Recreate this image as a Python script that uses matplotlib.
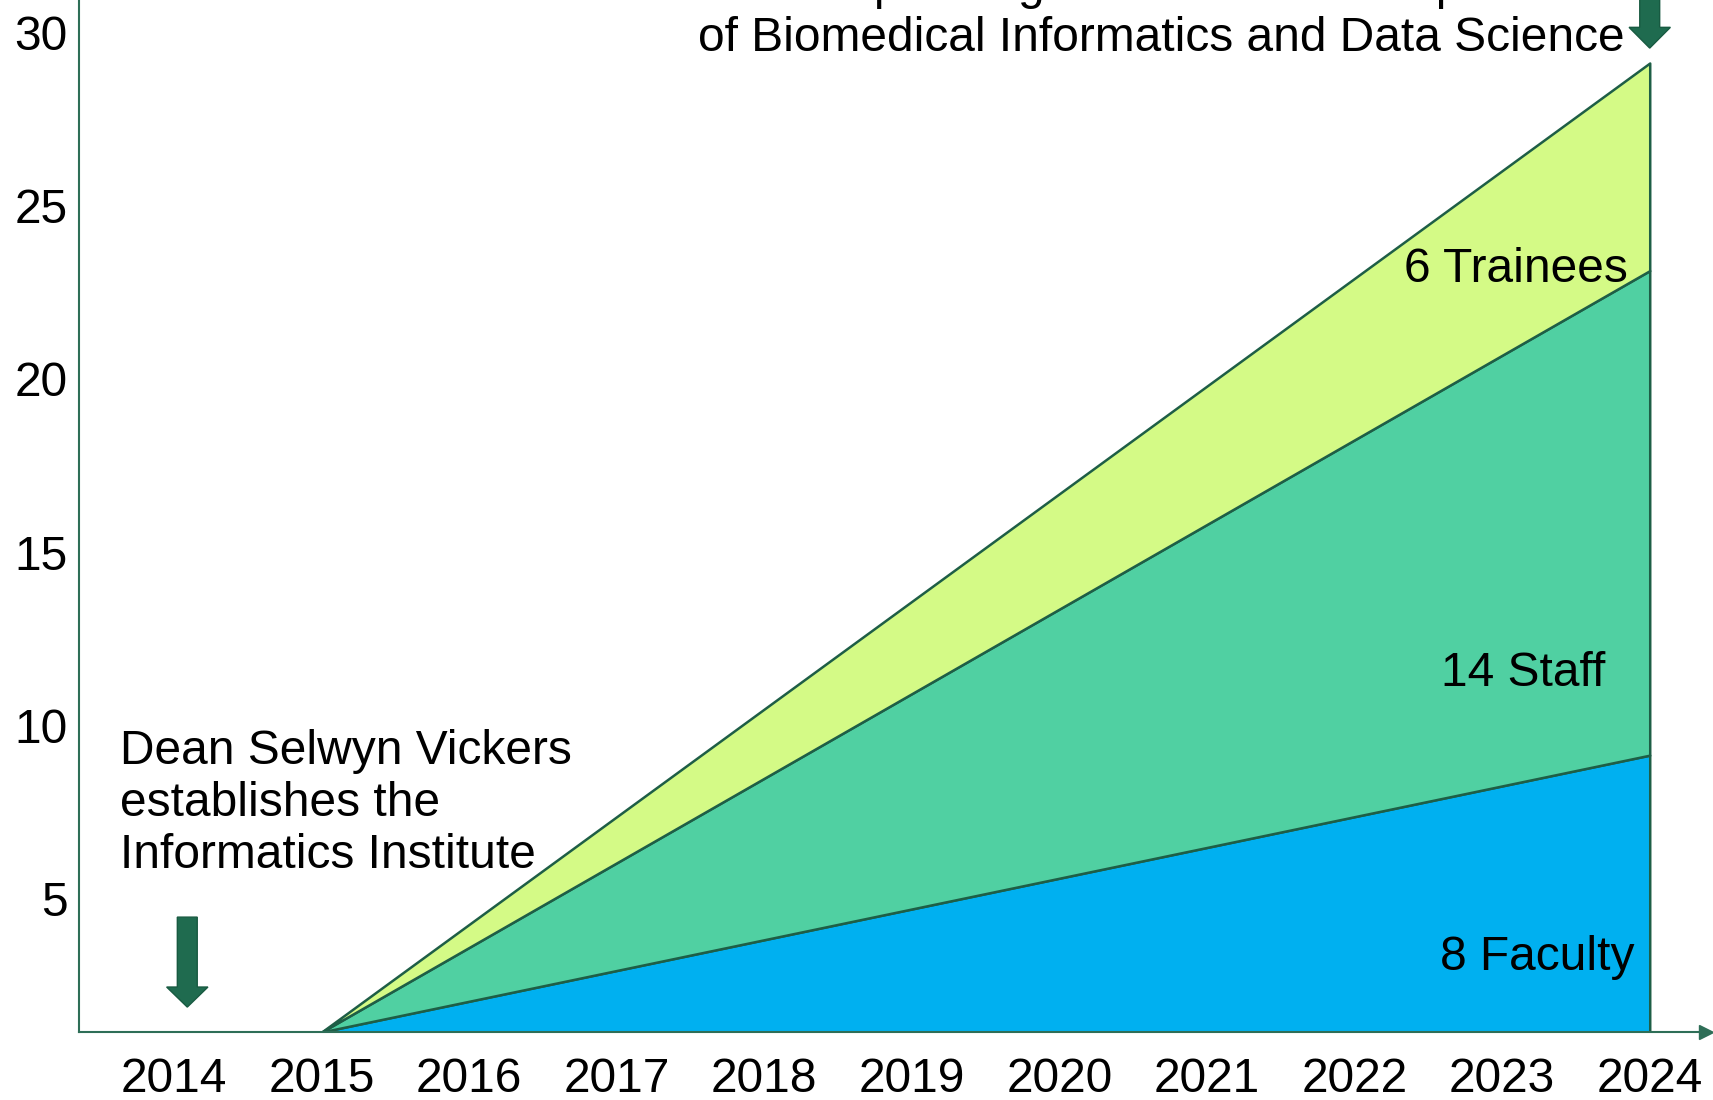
import numpy as np
import matplotlib.pyplot as plt
from matplotlib.patches import FancyArrow

plt.rcParams['font.family'] = ['Liberation Sans', 'DejaVu Sans']

#   Data
years = [2015, 2024]
faculty = [0, 8]
staff = [0, 14]
trainees = [0, 6]
layer_names = ['Faculty', 'Staff', 'Trainees']
layer_colors = ['#00B0F0', '#50D0A2', '#D4FA86']

year_ticks = list(range(2014, 2025))
y_ticks = [5, 10, 15, 20, 25, 30]

floor = 1.13   # value where the drawn x axis sits
edge = '#1E5E46'
axis_col = '#2E6E57'
arrow_col = '#1F6B4F'
fs = 34.5

#   Figure
fig = plt.figure(figsize=(17.13, 11.0), dpi=100)
ax = fig.add_axes([0.0461, 0.0618, 0.9497, 0.9382])
ax.set_xlim(2013.356, 2024.38)
ax.set_ylim(floor, 30.95)

#   Stacked areas
x = np.array(years)
bottom = np.full(len(years), floor)
for vals, col in zip([faculty, staff, trainees], layer_colors):
    top = bottom + np.array(vals)
    ax.fill_between(x, bottom, top, facecolor=col, edgecolor=edge, linewidth=1.8, zorder=2)
    bottom = top

#   Layer labels
ax.text(2023.9, 3.27, f'{faculty[-1]} {layer_names[0]}', ha='right', va='center', fontsize=fs, zorder=3)
ax.text(2023.7, 11.5, f'{staff[-1]} {layer_names[1]}', ha='right', va='center', fontsize=fs, zorder=3)
ax.text(2023.85, 23.15, f'{trainees[-1]} {layer_names[2]}', ha='right', va='center', fontsize=fs, zorder=3)

#   Axes styling
ax.set_xticks(year_ticks)
ax.set_yticks(y_ticks)
ax.tick_params(axis='both', length=0, labelsize=fs)
ax.tick_params(axis='x', pad=18)
ax.tick_params(axis='y', pad=8)
for s in ['top', 'right']:
    ax.spines[s].set_visible(False)
for s in ['left', 'bottom']:
    ax.spines[s].set_color(axis_col)
    ax.spines[s].set_linewidth(1.5)
ax.plot(1, floor, marker='>', ms=10, color=axis_col, transform=ax.get_yaxis_transform(), clip_on=False)

#   Annotations
ax.text(2013.634, 7.72, 'Dean Selwyn Vickers\nestablishes the\nInformatics Institute',
        ha='left', va='center', fontsize=fs, linespacing=1.2)
ax.add_patch(FancyArrow(2014.09, 4.45, 0, -2.6, width=0.135, head_width=0.28, head_length=0.58,
                        length_includes_head=True, facecolor=arrow_col, edgecolor='#185A41', zorder=3))

fig.text(0.9486, 0.989, 'Expanding to become the Department\nof Biomedical Informatics and Data Science',
         ha='right', va='center', ma='right', fontsize=fs, linespacing=1.2)
ax.add_patch(FancyArrow(2024.0, 31.6, 0, -2.04, width=0.135, head_width=0.28, head_length=0.6,
                        length_includes_head=True, facecolor=arrow_col, edgecolor='#185A41',
                        zorder=3, clip_on=False))

plt.savefig('out.png', dpi=100)
